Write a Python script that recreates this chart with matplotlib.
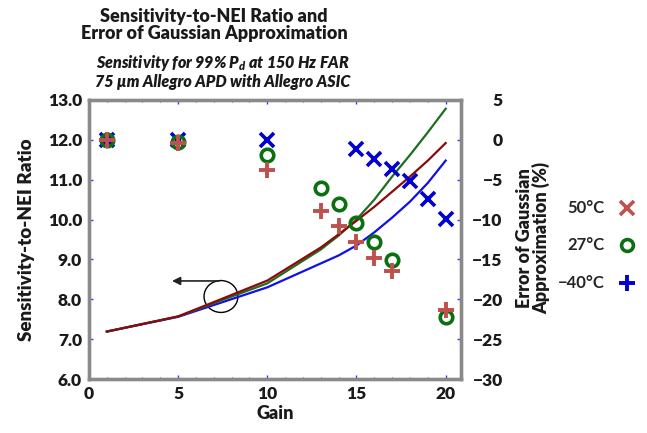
import matplotlib
matplotlib.use("Agg")
import matplotlib.pyplot as plt
from matplotlib.lines import Line2D
from matplotlib.patches import Ellipse

plt.rcParams['font.family'] = ['Lato', 'DejaVu Sans']
plt.rcParams['mathtext.fontset'] = 'custom'
plt.rcParams['mathtext.it'] = 'Lato:italic:heavy'
plt.rcParams['mathtext.rm'] = 'Lato:italic:heavy'

# Sensitivity-to-NEI ratio (left axis, lines)
line_gain = [1, 5, 10, 13, 14, 15, 16, 17, 18, 19, 20]
ratio_50C = [7.19, 7.57, 8.47, 9.30, 9.63, 9.97, 10.32, 10.70, 11.08, 11.48, 11.92]
ratio_27C = [7.19, 7.57, 8.40, 9.25, 9.60, 10.00, 10.50, 11.08, 11.62, 12.19, 12.78]
ratio_m40C = [7.19, 7.56, 8.30, 8.90, 9.10, 9.35, 9.68, 10.05, 10.45, 10.92, 11.48]

# Error of Gaussian approximation, % (right axis, markers)
err_gain_50C = [1, 5, 10, 13, 14, 15, 16, 17, 20]
err_50C = [0, -0.4, -3.8, -8.9, -10.8, -12.85, -14.8, -16.4, -21.3]
err_gain_27C = [1, 5, 10, 13, 14, 15, 16, 17, 20]
err_27C = [0, -0.3, -1.85, -6.05, -8.0, -10.45, -12.8, -15.1, -22.2]
err_gain_m40C = [1, 5, 10, 15, 16, 17, 18, 19, 20]
err_m40C = [0, 0, 0, -1.2, -2.4, -3.6, -5.2, -7.4, -9.9]

legend_labels = ['50°C', '27°C', '\u221240°C']

red_m = '#c0504d'
green_m = '#0a7010'
blue_m = '#0000d0'
spine_gray = '#8a8a8a'
tick_blue = '#3c3cff'
heavy = 'heavy'

fig = plt.figure(figsize=(6.47, 4.33), dpi=100)
ax = fig.add_axes([89 / 647, 54 / 433, 372 / 647, 279 / 433])
ax2 = ax.twinx()

ax.plot(line_gain, ratio_m40C, color='#1010e8', lw=1.6)
ax.plot(line_gain, ratio_27C, color='#1f6e1f', lw=1.6)
ax.plot(line_gain, ratio_50C, color='#8b0a0a', lw=1.6)

ax2.plot(err_gain_m40C, err_m40C, ls='none', marker='x', ms=9.5, mew=2.6, color=blue_m)
ax2.plot(err_gain_27C, err_27C, ls='none', marker='o', ms=9, mew=2.6, mfc='none', mec=green_m)
ax2.plot(err_gain_50C, err_50C, ls='none', marker='+', ms=11, mew=2.8, color=red_m)

ax.set_xlim(0, 20.86)
ax.set_ylim(6, 13)
ax2.set_ylim(-30, 5)

ax.set_xticks([0, 5, 10, 15, 20])
ax.set_xticks(range(0, 21), minor=True)
ax.set_yticks([6, 7, 8, 9, 10, 11, 12, 13])
ax.set_yticklabels([f'{v:.1f}' for v in range(6, 14)])
ax2.set_yticks([-30, -25, -20, -15, -10, -5, 0, 5])

for a in (ax, ax2):
    for s in a.spines.values():
        s.set_color(spine_gray)
        s.set_linewidth(2.4)

ax.tick_params(axis='both', which='major', direction='in', length=3, width=1,
               color=tick_blue, labelsize=12.5, pad=5, top=True, labelcolor='#1a1a1a')
ax.tick_params(axis='x', which='minor', direction='in', length=1.5, width=0.8,
               color=tick_blue, top=True)
ax.tick_params(axis='y', which='both', right=False)
ax2.tick_params(axis='y', direction='in', length=3, width=1, color=tick_blue,
                labelsize=12.5, pad=30, labelcolor='#1a1a1a')
for lab in ax.get_xticklabels() + ax.get_yticklabels() + ax2.get_yticklabels():
    lab.set_fontweight(heavy)
for lab in ax2.get_yticklabels():
    lab.set_horizontalalignment('right')

ax.set_xlabel('Gain', fontsize=13, fontweight=heavy, labelpad=2, color='#1a1a1a')
ax.set_ylabel('Sensitivity-to-NEI Ratio', fontsize=13.5, fontweight=heavy, labelpad=9,
              color='#1a1a1a')
fig.text(533 / 647, 1 - 238 / 433, 'Error of Gaussian\nApproximation (%)', rotation=90,
         ha='center', va='center', fontsize=13, fontweight=heavy, linespacing=0.95,
         color='#1a1a1a')

# circle with arrow pointing to the left axis
ax.add_patch(Ellipse((7.4, 8.07), 1.9, 0.8, fill=False, ec='black', lw=1))
ax.annotate('', xy=(4.5, 8.46), xytext=(7.45, 8.46),
            arrowprops=dict(arrowstyle='-|>', color='#222222', lw=1.2, mutation_scale=12))

fig.text(214 / 647, 1 - 8 / 433, 'Sensitivity-to-NEI Ratio and\nError of Gaussian Approximation',
         ha='center', va='top', fontsize=13, fontweight=heavy, linespacing=1.0, color='#1a1a1a')
fig.text(223 / 647, 1 - 53 / 433,
         'Sensitivity for 99% $P_d$ at 150 Hz FAR\n75 \u00b5m Allegro APD with Allegro ASIC',
         ha='center', va='top', fontsize=11.5, fontweight=heavy, style='italic',
         linespacing=1.05, color='#1a1a1a')

# legend drawn as in the original
leg_y = [208, 245, 283]
leg_markers = [dict(marker='x', color=red_m, mew=2.6, ms=9.5),
               dict(marker='o', mec=green_m, mfc='none', mew=2.6, ms=8.5),
               dict(marker='+', color=blue_m, mew=2.8, ms=11)]
for lab, y, mk in zip(legend_labels, leg_y, leg_markers):
    fig.text(605 / 647, 1 - y / 433, lab, ha='right', va='center', fontsize=12,
             fontweight='bold', color='#262626')
    fig.add_artist(Line2D([627 / 647], [1 - y / 433], transform=fig.transFigure, ls='none', **mk))

fig.savefig('out.png', dpi=100)
